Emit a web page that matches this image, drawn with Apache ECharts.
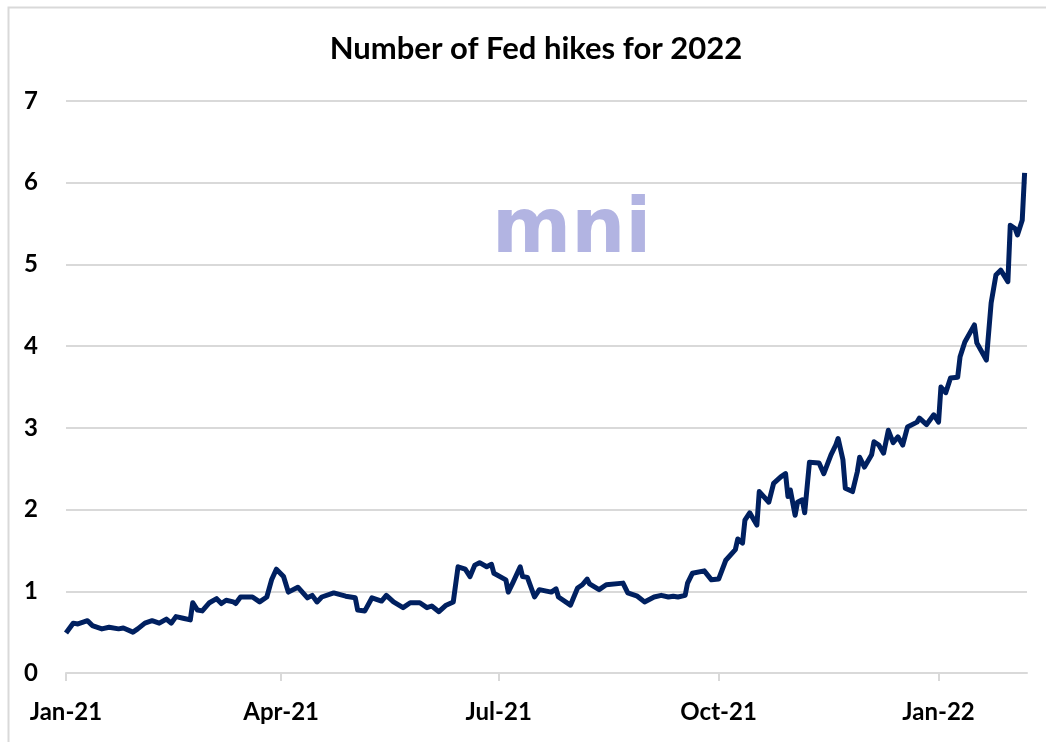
<!DOCTYPE html>
<html>
<head>
<meta charset="utf-8">
<script src="https://cdn.jsdelivr.net/npm/echarts@6/dist/echarts.min.js"></script>
<style>
html,body{margin:0;padding:0;background:#fff;}
#chart{width:1046px;height:742px;}
</style>
</head>
<body>
<div id="chart"></div>
<script>
var dates = [
	'2021-01-01','2021-01-04','2021-01-06','2021-01-10','2021-01-12','2021-01-16','2021-01-19','2021-01-23','2021-01-25','2021-01-29',
	'2021-01-31','2021-02-03','2021-02-06','2021-02-09','2021-02-12','2021-02-14','2021-02-16','2021-02-19','2021-02-22','2021-02-23',
	'2021-02-25','2021-02-27','2021-03-02','2021-03-05','2021-03-07','2021-03-09','2021-03-12','2021-03-13','2021-03-15','2021-03-20',
	'2021-03-23','2021-03-26','2021-03-28','2021-03-30','2021-04-02','2021-04-04','2021-04-08','2021-04-12','2021-04-14','2021-04-16',
	'2021-04-18','2021-04-23','2021-04-28','2021-05-02','2021-05-03','2021-05-06','2021-05-09','2021-05-13','2021-05-15','2021-05-18',
	'2021-05-22','2021-05-25','2021-05-29','2021-06-01','2021-06-03','2021-06-06','2021-06-09','2021-06-12','2021-06-14','2021-06-17',
	'2021-06-19','2021-06-21','2021-06-23','2021-06-26','2021-06-28','2021-06-29','2021-07-04','2021-07-05','2021-07-07','2021-07-10',
	'2021-07-11','2021-07-13','2021-07-16','2021-07-18','2021-07-23','2021-07-25','2021-07-26','2021-07-31','2021-08-03','2021-08-05',
	'2021-08-07','2021-08-08','2021-08-12','2021-08-15','2021-08-22','2021-08-24','2021-08-28','2021-08-31','2021-09-04','2021-09-07',
	'2021-09-10','2021-09-12','2021-09-14','2021-09-17','2021-09-18','2021-09-20','2021-09-25','2021-09-28','2021-10-01','2021-10-04',
	'2021-10-08','2021-10-09','2021-10-11','2021-10-12','2021-10-14','2021-10-17','2021-10-18','2021-10-22','2021-10-24','2021-10-27',
	'2021-10-29','2021-10-30','2021-10-31','2021-11-02','2021-11-03','2021-11-05','2021-11-06','2021-11-08','2021-11-12','2021-11-14',
	'2021-11-17','2021-11-19','2021-11-20','2021-11-22','2021-11-23','2021-11-26','2021-11-28','2021-11-29','2021-12-01','2021-12-04',
	'2021-12-05','2021-12-07','2021-12-09','2021-12-11','2021-12-13','2021-12-15','2021-12-17','2021-12-19','2021-12-23','2021-12-24',
	'2021-12-27','2021-12-30','2022-01-01','2022-01-02','2022-01-04','2022-01-06','2022-01-09','2022-01-10','2022-01-12','2022-01-16',
	'2022-01-17','2022-01-21','2022-01-23','2022-01-25','2022-01-27','2022-01-30','2022-01-31','2022-02-02','2022-02-03','2022-02-05',
	'2022-02-06'
];
var hikes = [
	0.49,0.61,0.60,0.64,0.58,0.54,0.56,0.54,0.55,0.50,
	0.54,0.61,0.64,0.61,0.66,0.61,0.69,0.67,0.65,0.86,
	0.77,0.76,0.86,0.91,0.85,0.89,0.87,0.85,0.93,0.93,
	0.87,0.93,1.14,1.27,1.18,0.99,1.05,0.92,0.95,0.87,
	0.93,0.98,0.94,0.92,0.77,0.76,0.92,0.88,0.95,0.87,
	0.80,0.86,0.86,0.80,0.82,0.75,0.83,0.87,1.30,1.27,
	1.18,1.32,1.35,1.30,1.33,1.22,1.14,0.99,1.11,1.30,
	1.18,1.17,0.93,1.02,0.99,1.03,0.93,0.83,1.04,1.08,
	1.15,1.09,1.02,1.08,1.10,0.98,0.94,0.87,0.93,0.95,
	0.93,0.94,0.93,0.95,1.10,1.22,1.25,1.14,1.15,1.38,
	1.51,1.64,1.59,1.87,1.96,1.81,2.22,2.09,2.32,2.40,
	2.44,2.16,2.24,1.93,2.09,2.12,1.96,2.58,2.57,2.44,
	2.67,2.79,2.87,2.61,2.26,2.22,2.46,2.64,2.52,2.67,
	2.83,2.79,2.69,2.97,2.82,2.89,2.79,3.01,3.07,3.12,
	3.04,3.16,3.07,3.50,3.43,3.61,3.62,3.87,4.05,4.26,
	4.04,3.83,4.53,4.87,4.93,4.79,5.48,5.44,5.36,5.54,
	6.12
];
var tickDates = ['2021-01-01','2021-04-01','2021-07-01','2021-10-01','2022-01-01'];
var monthNames = ['Jan','Feb','Mar','Apr','May','Jun','Jul','Aug','Sep','Oct','Nov','Dec'];

var font = 'Lato, "Open Sans", sans-serif';
function toTime(d){ return +echarts.time.parse(d); }
var tickValues = tickDates.map(toTime);
var seriesData = dates.map(function(d, i){ return [toTime(d), hikes[i]]; });

var chart = echarts.init(document.getElementById('chart'));
chart.setOption({
	animation: false,
	backgroundColor: '#ffffff',
	title: {
		text: 'Number of Fed hikes for 2022',
		left: 531, top: 28, textAlign: 'center',
		textStyle: {fontFamily: font, fontSize: 31, fontWeight: 'bold', color: '#000'}
	},
	graphic: [
		{type: 'rect', left: 6, top: 5, shape: {width: 1045, height: 745},
			style: {fill: 'none', stroke: '#d9d9d9', lineWidth: 2}, silent: true},
		{type: 'text', left: 492, top: 194, z: 0,
			style: {text: 'mni', fill: '#b2b4e2', font: 'bold 76px "DejaVu Sans"'}}
	],
	grid: {left: 66, right: 19, top: 101, bottom: 69},
	xAxis: {
		type: 'value',
		min: toTime('2021-01-01'), max: toTime('2022-02-07'),
		axisLine: {lineStyle: {color: '#d9d9d9', width: 2}},
		axisTick: {show: true, customValues: tickValues, length: 8, lineStyle: {color: '#d9d9d9', width: 2}},
		axisLabel: {
			customValues: tickValues,
			margin: 27,
			color: '#000', fontFamily: font, fontSize: 24, fontWeight: 'bold',
			formatter: function(v){
				var d = new Date(v);
				return monthNames[d.getMonth()] + '-' + String(d.getFullYear()).slice(2);
			}
		},
		splitLine: {show: false}
	},
	yAxis: {
		type: 'value', min: 0, max: 7, interval: 1,
		axisLine: {show: false}, axisTick: {show: false},
		axisLabel: {color: '#000', fontFamily: font, fontSize: 24, fontWeight: 'bold', margin: 28},
		splitLine: {lineStyle: {color: '#d9d9d9', width: 2}}
	},
	series: [{
		type: 'line',
		data: seriesData,
		showSymbol: false,
		z: 3,
		lineStyle: {color: '#002060', width: 5, join: 'round'}
	}]
});
</script>
</body>
</html>
